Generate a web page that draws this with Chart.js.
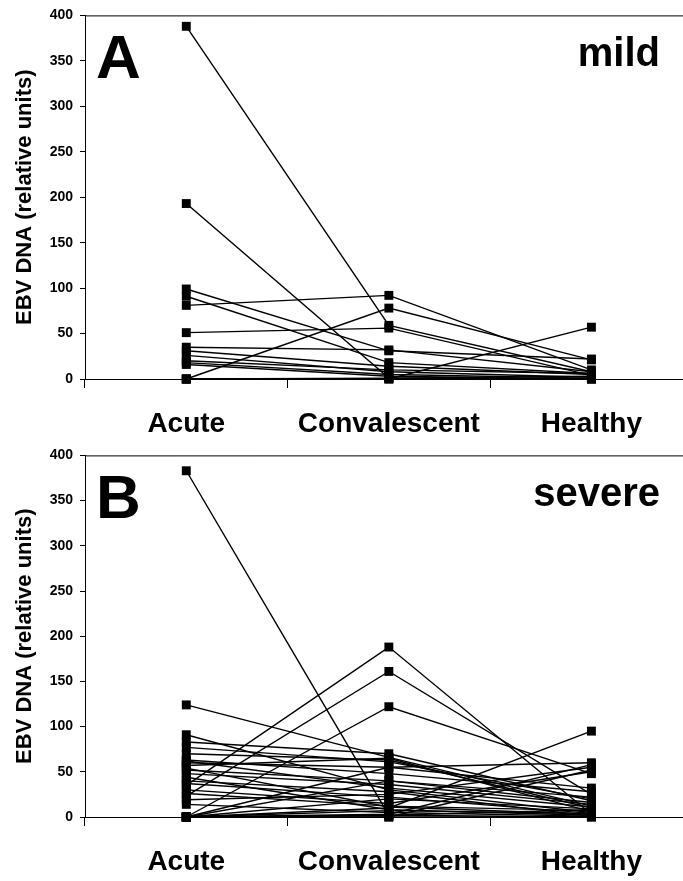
<!DOCTYPE html>
<html>
<head>
<meta charset="utf-8">
<title>EBV DNA mild / severe</title>
<script src="https://cdn.jsdelivr.net/npm/chart.js@4.4.1/dist/chart.umd.min.js"></script>
<style>
  html, body { margin: 0; padding: 0; background: #fff; overflow: hidden; }
  #wrap { position: relative; width: 683px; height: 881px; overflow: hidden; }
  canvas { position: absolute; left: 0; }
  #mildChart { top: 0; }
  #severeChart { top: 440px; }
</style>
</head>
<body>
<div id="wrap">
  <canvas id="mildChart" width="699" height="440"></canvas>
  <canvas id="severeChart" width="699" height="441"></canvas>
</div>
<script>
const groups = ['Acute', 'Convalescent', 'Healthy'];
const yMax = 400;
const yStep = 50;
const yTitle = 'EBV DNA (relative units)';

// mild patients, one entry per subject
const mildAcute   = [388, 193, 99, 91, 81, 51, 0, 35, 31, 26, 20, 18, 16, 0, 0, 0];
const mildConv    = [59, 1, 31, 18, 92, 56, 78, 32, 14, 8, 10, 5, 3, 0, 0, 1];
const mildHealthy = [8, 3, 22, 6, 10, 4, 21, 8, 5, 2, 6, 1, 0, 57, 0, 0];

// severe patients
const severeAcute   = [383, 124, 91, 83, 77, 70, 63, 60, 57, 54, 52, 48, 44, 37, 35, 23, 0, 30, 19, 14, 0, 0, 0, 0, 0, 0, 0, 0, 26, 62, 0, 40];
const severeConv    = [2, 66, 30, 70, 61, 63, 48, 55, 65, 11, 40, 36, 8, 22, 188, 161, 122, 15, 25, 5, 55, 40, 20, 10, 3, 0, 0, 2, 12, 32, 7, 28];
const severeHealthy = [8, 12, 5, 18, 20, 10, 28, 60, 6, 3, 22, 14, 2, 4, 3, 25, 48, 50, 55, 1, 32, 16, 9, 95, 58, 52, 0, 0, 7, 11, 4, 1];

const fontFamily = "'Liberation Sans', Arial, Helvetica, sans-serif";

const panelDecor = {
    id: 'panelDecor',
    beforeDatasetsDraw(chart) {
        const { ctx, chartArea } = chart;
        ctx.save();
        ctx.strokeStyle = '#000';
        ctx.lineWidth = 1;
        ctx.beginPath();
        ctx.moveTo(chartArea.left, chartArea.top + 0.5);
        ctx.lineTo(chartArea.right, chartArea.top + 0.5);
        ctx.stroke();
        ctx.restore();
    },
    afterDraw(chart, args, opts) {
        const { ctx, chartArea } = chart;
        ctx.save();
        ctx.fillStyle = '#000';
        ctx.textBaseline = 'alphabetic';
        ctx.textAlign = 'left';
        ctx.font = `bold 62px ${fontFamily}`;
        ctx.fillText(opts.letter, chartArea.left + 11, chartArea.top + 63);
        ctx.textAlign = 'right';
        ctx.font = `bold 40px ${fontFamily}`;
        ctx.fillText(opts.name, chartArea.left + 575, chartArea.top + 51);
        ctx.restore();
    },
};

function buildDatasets(acute, conv, healthy) {
    return acute.map((a, i) => ({
        data: [a, conv[i], healthy[i]],
        borderColor: '#000',
        backgroundColor: '#000',
        borderWidth: 1.4,
        pointBackgroundColor: '#000',
        pointBorderWidth: 0,
        pointStyle: 'rect',
        pointRadius: 6.3,
        tension: 0,
        clip: false,
    }));
}

function buildPanel(canvasId, acute, conv, healthy, letter, name, padTop, xHeight) {
    return new Chart(document.getElementById(canvasId), {
        type: 'line',
        data: {
            labels: groups,
            datasets: buildDatasets(acute, conv, healthy),
        },
        plugins: [panelDecor],
        options: {
            responsive: false,
            animation: false,
            devicePixelRatio: 1,
            events: [],
            layout: { padding: { top: padTop, left: 0, right: 0, bottom: 0 } },
            plugins: {
                legend: { display: false },
                tooltip: { enabled: false },
                panelDecor: { letter: letter, name: name },
            },
            scales: {
                x: {
                    offset: true,
                    grid: { offset: true, drawOnChartArea: false, tickLength: 9, color: '#000' },
                    border: { color: '#000', width: 1 },
                    ticks: {
                        color: '#000',
                        font: { family: fontFamily, size: 28, weight: 'bold' },
                        padding: 19,
                        maxRotation: 0,
                        autoSkip: false,
                    },
                    afterFit(scale) { scale.height = xHeight; },
                },
                y: {
                    min: 0,
                    max: yMax,
                    grid: { drawOnChartArea: false, tickLength: 5, color: '#000' },
                    border: { color: '#000', width: 1 },
                    ticks: {
                        stepSize: yStep,
                        color: '#000',
                        font: { family: fontFamily, size: 14, weight: 'bold' },
                        padding: 7,
                    },
                    title: {
                        display: true,
                        text: yTitle,
                        color: '#000',
                        font: { family: fontFamily, size: 22, weight: 'bold' },
                        padding: { top: 12, bottom: 0 },
                    },
                    afterFit(scale) { scale.width = 85; },
                },
            },
        },
    });
}

buildPanel('mildChart', mildAcute, mildConv, mildHealthy, 'A', 'mild', 15, 61);
buildPanel('severeChart', severeAcute, severeConv, severeHealthy, 'B', 'severe', 14, 64);
</script>
</body>
</html>
